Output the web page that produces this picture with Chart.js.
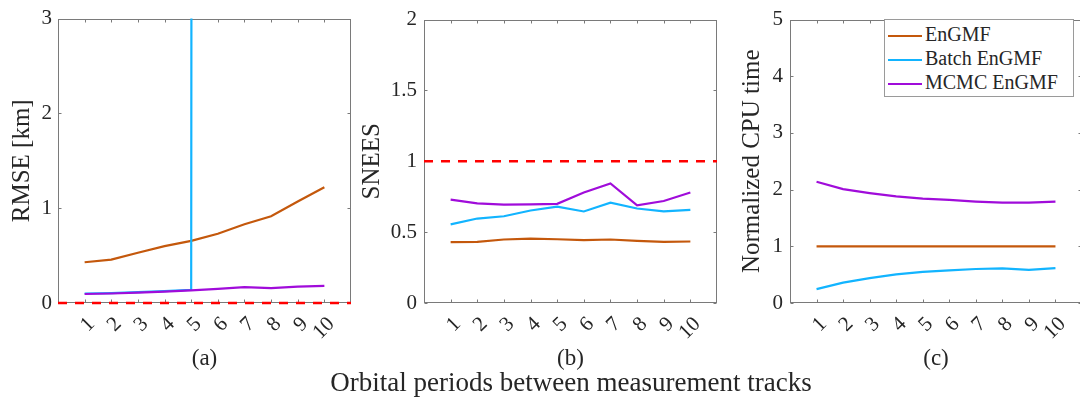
<!DOCTYPE html>
<html>
<head>
<meta charset="utf-8">
<script src="https://cdn.jsdelivr.net/npm/chart.js@4.4.1/dist/chart.umd.min.js"></script>
<style>
  body { margin: 0; width: 1080px; height: 406px; overflow: hidden; background: #fff; font-family: "Liberation Serif", serif; color: #262626; }
  #wrap { position: relative; width: 1100px; height: 406px; }
  canvas { position: absolute; top: 0; }
  #xlabel { position: absolute; top: 366px; left: 271px; width: 600px; text-align: center; font-size: 27px; line-height: 32px; }
  #legend { position: absolute; left: 884px; top: 19px; width: 188px; height: 76px; border: 1px solid #9a9a9a; background: #fff; font-size: 20px; }
  #legend div { position: absolute; left: 3px; height: 24px; line-height: 24px; white-space: nowrap; }
  #legend span { display: inline-block; width: 34px; height: 2px; vertical-align: middle; margin-right: 3px; }
</style>
</head>
<body>
<div id="wrap">
  <canvas id="rmse" width="360" height="406" style="left:0px"></canvas>
  <canvas id="snees" width="370" height="406" style="left:350px"></canvas>
  <canvas id="cpu" width="360" height="406" style="left:730px"></canvas>
  <div id="xlabel">Orbital periods between measurement tracks</div>
  <div id="legend"></div>
</div>
<script>
// x values: orbital periods between tracks
const periods = [1, 2, 3, 4, 5, 6, 7, 8, 9, 10];
const seriesNames = ["EnGMF", "Batch EnGMF", "MCMC EnGMF"];

// (a) RMSE [km]  (batch diverges after 5 periods)
const rmseEnGMF = [0.43, 0.457, 0.53, 0.60, 0.655, 0.73, 0.83, 0.915, 1.07, 1.22];
const rmseBatch = [0.10, 0.105, 0.115, 0.125, 0.14, 850, 1200, 1500, 2100, 2600];
const rmseMCMC  = [0.095, 0.10, 0.11, 0.12, 0.133, 0.148, 0.167, 0.157, 0.172, 0.18];

// (b) SNEES
const sneesEnGMF = [0.43, 0.432, 0.448, 0.455, 0.45, 0.444, 0.448, 0.439, 0.432, 0.434];
const sneesBatch = [0.555, 0.596, 0.612, 0.653, 0.68, 0.646, 0.708, 0.667, 0.646, 0.657];
const sneesMCMC  = [0.73, 0.703, 0.694, 0.696, 0.70, 0.78, 0.844, 0.69, 0.72, 0.78];

// (c) Normalized CPU time
const cpuEnGMF = [1, 1, 1, 1, 1, 1, 1, 1, 1, 1];
const cpuBatch = [0.245, 0.36, 0.44, 0.505, 0.55, 0.575, 0.60, 0.61, 0.585, 0.615];
const cpuMCMC  = [2.14, 2.01, 1.94, 1.88, 1.84, 1.82, 1.79, 1.77, 1.77, 1.79];

// reference lines
const rmseRef = 0;
const sneesRef = 1;

const colors = ["#C4580C", "#12B4FF", "#A00CDA"];
const refColor = "#FF0000";
const axisGrey = "#7a7a7a";
const textColor = "#262626";
const serif = "'Liberation Serif', serif";
const xMin = 0, xMax = 11;

// MATLAB style box with inward ticks on all four sides
const boxPlugin = {
    id: "box",
    beforeDatasetsDraw(chart) {
        const { ctx, chartArea: a, scales: { x, y } } = chart;
        const l = Math.round(a.left) + 0.5, r = Math.round(a.right) - 0.5;
        const t = Math.round(a.top) + 0.5, b = Math.round(a.bottom) - 0.5;
        ctx.save();
        ctx.strokeStyle = axisGrey;
        ctx.lineWidth = 1;
        ctx.strokeRect(l, t, r - l, b - t);
        ctx.beginPath();
        x.ticks.forEach(tk => {
            const px = Math.round(x.getPixelForValue(tk.value)) + 0.5;
            ctx.moveTo(px, b); ctx.lineTo(px, b - 3);
            ctx.moveTo(px, t); ctx.lineTo(px, t + 3);
        });
        y.ticks.forEach(tk => {
            const py = Math.round(y.getPixelForValue(tk.value)) + 0.5;
            ctx.moveTo(l, py); ctx.lineTo(l + 3, py);
            ctx.moveTo(r, py); ctx.lineTo(r - 3, py);
        });
        ctx.stroke();
        ctx.restore();
    }
};

function line(label, values, i) {
    return {
        label: label,
        data: periods.map((p, k) => ({ x: p, y: values[k] })),
        borderColor: colors[i],
        borderWidth: 2.2,
        pointRadius: 0,
        order: 3 - i,
    };
}

function refLine(value) {
    return {
        label: "ref",
        data: [{ x: xMin, y: value }, { x: xMax, y: value }],
        borderColor: refColor,
        borderWidth: 2.5,
        borderDash: [9, 8],
        pointRadius: 0,
        clip: false,
        order: 0,
    };
}

function panel(id, cfg) {
    const ctx = document.getElementById(id).getContext("2d");
    return new Chart(ctx, {
        type: "line",
        data: { datasets: cfg.datasets },
        options: {
            responsive: false,
            animation: false,
            devicePixelRatio: 1,
            layout: { padding: { top: 10, bottom: 33, left: 0, right: cfg.padRight } },
            plugins: { legend: { display: false }, tooltip: { enabled: false } },
            scales: {
                x: {
                    type: "linear",
                    min: xMin,
                    max: xMax,
                    afterBuildTicks: s => { s.ticks = periods.map(v => ({ value: v })); },
                    afterFit: s => { s.height = 70; },
                    grid: { display: false, drawTicks: false },
                    border: { display: false },
                    ticks: {
                        autoSkip: false,
                        minRotation: 45, maxRotation: 45, padding: 9, labelOffset: 7,
                        color: textColor, font: { family: serif, size: 21 },
                        callback: v => String(v),
                    },
                    title: { display: true, text: cfg.sub, color: textColor, padding: 0, font: { family: serif, size: 23 } },
                },
                y: {
                    min: cfg.yMin,
                    max: cfg.yMax,
                    afterFit: s => { s.width = cfg.yWidth; },
                    grid: { display: false, drawTicks: false },
                    border: { display: false },
                    ticks: {
                        stepSize: cfg.yStep, padding: cfg.tickPad,
                        color: textColor, font: { family: serif, size: 21 },
                        callback: v => String(v),
                    },
                    title: { display: true, text: cfg.yTitle, color: textColor, padding: { top: 7, bottom: 0 }, font: { family: serif, size: 25 } },
                },
            },
        },
        plugins: [boxPlugin],
    });
}

panel("rmse", {
    sub: "(a)", yTitle: "RMSE [km]", yMin: 0, yMax: 3, yStep: 1,
    yWidth: 58, tickPad: 6, padRight: 9,
    datasets: [line(seriesNames[0], rmseEnGMF, 0), line(seriesNames[1], rmseBatch, 1), line(seriesNames[2], rmseMCMC, 2), refLine(rmseRef)],
});

panel("snees", {
    sub: "(b)", yTitle: "SNEES", yMin: 0, yMax: 2, yStep: 0.5,
    yWidth: 74, tickPad: 7, padRight: 3,
    datasets: [line(seriesNames[0], sneesEnGMF, 0), line(seriesNames[1], sneesBatch, 1), line(seriesNames[2], sneesMCMC, 2), refLine(sneesRef)],
});

panel("cpu", {
    sub: "(c)", yTitle: "Normalized CPU time", yMin: 0, yMax: 5, yStep: 1,
    yWidth: 60, tickPad: 7, padRight: 8,
    datasets: [line(seriesNames[0], cpuEnGMF, 0), line(seriesNames[1], cpuBatch, 1), line(seriesNames[2], cpuMCMC, 2)],
});

// legend inside panel (c)
const legend = document.getElementById("legend");
seriesNames.forEach((name, i) => {
    const row = document.createElement("div");
    row.style.top = (2 + i * 24) + "px";
    row.innerHTML = '<span style="background:' + colors[i] + '"></span>' + name;
    legend.appendChild(row);
});
</script>
</body>
</html>
